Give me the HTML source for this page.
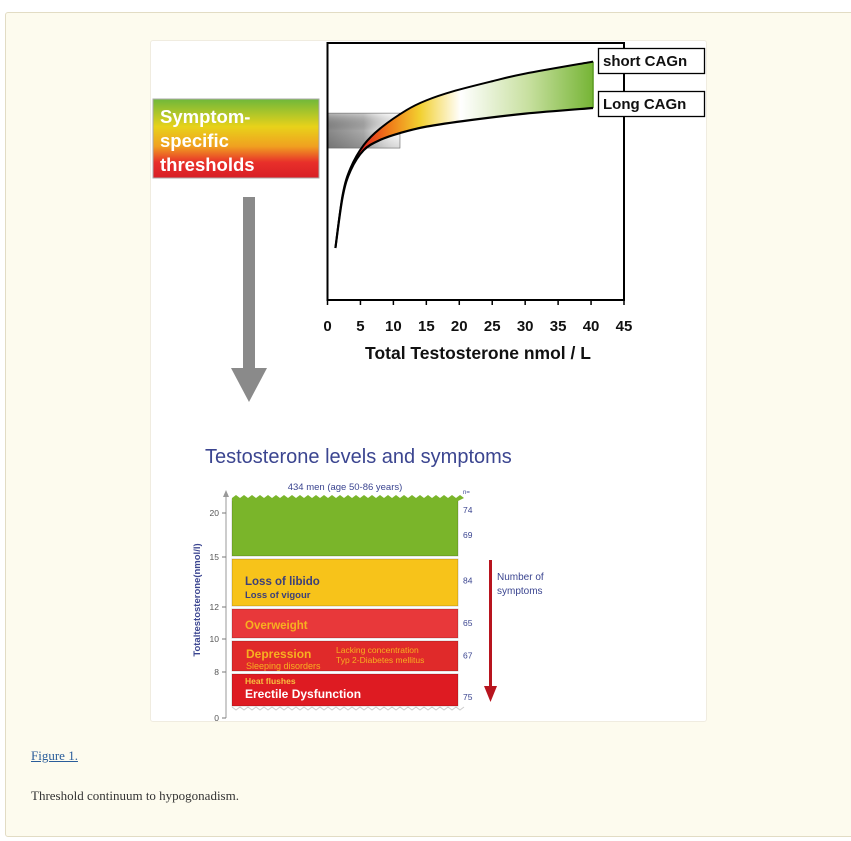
<!DOCTYPE html>
<html><head><meta charset="utf-8">
<style>
html,body{margin:0;padding:0;background:#fff;}
body{width:851px;height:841px;position:relative;overflow:hidden;font-family:"Liberation Sans",sans-serif;}
#frame{position:absolute;left:5px;top:12px;width:850px;height:825px;background:#fdfbee;border:1px solid #e2dcc4;border-radius:3px;box-sizing:border-box;}
#panel{position:absolute;left:150px;top:40px;width:557px;height:682px;background:#fff;border-radius:3px;border:1px solid #f0ece0;box-sizing:border-box;}
#cap-link{position:absolute;left:31px;top:748px;font-family:"Liberation Serif",serif;font-size:13px;color:#2a5d9a;text-decoration:underline;}
#cap-text{position:absolute;left:31px;top:788px;font-family:"Liberation Serif",serif;font-size:13px;color:#333;}
svg{position:absolute;left:0;top:0;}
</style></head><body>
<div id="frame"></div>
<div id="panel"></div>
<a id="cap-link">Figure 1.</a>
<div id="cap-text">Threshold continuum to hypogonadism.</div>
<svg id="chart" width="851" height="841" xmlns="http://www.w3.org/2000/svg">
<defs>
<linearGradient id="symGrad" x1="0" y1="0" x2="0" y2="1">
<stop offset="0" stop-color="#6fb83a"/><stop offset="0.35" stop-color="#e8d21a"/><stop offset="0.6" stop-color="#f0a020"/><stop offset="0.8" stop-color="#e8302a"/><stop offset="1" stop-color="#d81e26"/>
</linearGradient>
<linearGradient id="grayGrad" x1="0" y1="0" x2="1" y2="0">
<stop offset="0" stop-color="#888"/><stop offset="0.5" stop-color="#aaa"/><stop offset="1" stop-color="#fff" stop-opacity="0.2"/>
</linearGradient>
<linearGradient id="grayV" x1="0" y1="0" x2="0" y2="1">
<stop offset="0" stop-color="#fff" stop-opacity="0.4"/><stop offset="0.5" stop-color="#000" stop-opacity="0"/><stop offset="1" stop-color="#000" stop-opacity="0.15"/>
</linearGradient>
<linearGradient id="bandGrad" gradientUnits="userSpaceOnUse" x1="360" y1="0" x2="600" y2="0">
<stop offset="0" stop-color="#e02020"/><stop offset="0.12" stop-color="#f07a18"/><stop offset="0.25" stop-color="#f2d030"/><stop offset="0.42" stop-color="#ffffff"/><stop offset="0.7" stop-color="#c8e0a0"/><stop offset="1" stop-color="#6db02a"/>
</linearGradient>
</defs>
<g id="topchart"></g>
<g id="bottom"></g>
</svg>
<script>
// ---------- top chart data ----------
const xTicks = [0,5,10,15,20,25,30,35,40,45];
const lowerT = [1.2, 2.3, 3.5, 5.5, 8, 11, 15, 21.8, 30, 40.3];
const lowerY = [19.6, 39.7, 50, 58, 62, 64.7, 67.2, 69.8, 72.3, 74.5];
const upperT = [1.2, 2.3, 3.5, 5.5, 8, 12, 15, 19, 25, 30, 40.3];
const upperY = [19.6, 40.5, 51, 60, 66.5, 73.7, 77.5, 81, 85, 88, 92.7];
const thresholdBand = [58.8, 72.5, 11];
// ---------- bottom chart data ----------
const levelTicks = [0, 8, 10, 12, 15, 20];
const bandLow = [15, 12, 10, 8, 6.5];
const bandHigh = [21.5, 15, 12, 10, 8];
const bandColors = ['#7ab52a', '#f7c31a', '#e8383a', '#e02a2a', '#de1b22'];
const bandNames = ['band-green', 'band-libido', 'band-overweight', 'band-depression', 'band-erectile'];
const nLabels = ['74', '69', '84', '65', '67', '75'];
const nLevels = [20.3, 17.5, 13.6, 11, 9, 6.9];

const NS = 'http://www.w3.org/2000/svg';
function mk(tag, attrs, parent, text){
  const e = document.createElementNS(NS, tag);
  for (const k in attrs) e.setAttribute(k, attrs[k]);
  if (text !== undefined) e.textContent = text;
  parent.appendChild(e);
  return e;
}
const gTop = document.getElementById('topchart');
const bot = document.getElementById('bottom');
const PX0 = 327.5, PX1 = 624, PY0 = 298, PY1 = 43;
const sx = t => PX0 + (PX1 - PX0) * t / 45;
const sy = v => PY0 - (PY0 - PY1) * v / 100;
function smooth(ts, ys){
  const p = ts.map((t,i)=>[sx(t), sy(ys[i])]);
  let d = 'M' + p[0][0] + ',' + p[0][1];
  for (let i=0;i<p.length-1;i++){
    const p0=p[Math.max(0,i-1)], p1=p[i], p2=p[i+1], p3=p[Math.min(p.length-1,i+2)];
    const c1=[p1[0]+(p2[0]-p0[0])/6, p1[1]+(p2[1]-p0[1])/6];
    const c2=[p2[0]-(p3[0]-p1[0])/6, p2[1]-(p3[1]-p1[1])/6];
    d += ' C'+c1[0]+','+c1[1]+' '+c2[0]+','+c2[1]+' '+p2[0]+','+p2[1];
  }
  return d;
}
let el = mk('rect', {x:PX0, y:sy(thresholdBand[1]), width:sx(thresholdBand[2])-PX0, height:sy(thresholdBand[0])-sy(thresholdBand[1]), fill:'url(#grayGrad)'}, gTop);


el = mk('rect', {x:PX0, y:sy(thresholdBand[1]), width:sx(thresholdBand[2])-PX0, height:sy(thresholdBand[0])-sy(thresholdBand[1]), fill:'url(#grayV)', stroke:'#666', 'stroke-width':0.6}, gTop);


const up = smooth(upperT, upperY);
const lowRev = smooth(lowerT.slice().reverse(), lowerY.slice().reverse());
el = mk('path', {d: up + ' L' + sx(lowerT[lowerT.length-1]) + ',' + sy(lowerY[lowerY.length-1]) + lowRev.replace(/^M[^C]*/,' ') + 'Z', fill:'url(#bandGrad)', stroke:'none'}, gTop);


el = mk('line', {x1:sx(upperT[upperT.length-1]), y1:sy(upperY[upperY.length-1]), x2:sx(lowerT[lowerT.length-1]), y2:sy(lowerY[lowerY.length-1]), stroke:'#5a9a20', 'stroke-width':1.5}, gTop);


el = mk('path', {d: smooth(lowerT, lowerY), fill:'none', stroke:'#000', 'stroke-width':2.2}, gTop);


el = mk('path', {d: up, fill:'none', stroke:'#000', 'stroke-width':2}, gTop);


el = mk('path', {d:'M'+PX0+','+PY1+' L'+PX1+','+PY1+' L'+PX1+','+(PY0+2)+' L'+PX0+','+(PY0+2)+' Z', fill:'none', stroke:'#000', 'stroke-width':2}, gTop);


xTicks.forEach(t=>{
  const x = sx(t);
  let tk = mk('line', {x1:x, y1:PY0+2, x2:x, y2:PY0+7, stroke:'#000', 'stroke-width':1.5}, gTop);
  
  
  let tl = mk('text', {x:x, y:331, 'text-anchor':'middle', 'font-size':15, 'font-weight':'bold', fill:'#111'}, gTop, String(t));
  
  
});
el = mk('text', {x:478, y:359, 'text-anchor':'middle', 'font-size':17.5, 'font-weight':'bold', fill:'#111'}, gTop, 'Total Testosterone nmol / L');


[['short CAGn',48,'short-cagn-label'],['Long CAGn',91,'long-cagn-label']].forEach(b=>{
  let r = mk('rect', {x:598.5, y:b[1]+0.5, width:106, height:25, fill:'#fff', stroke:'#000', 'stroke-width':1.3}, gTop);
  
  
  let t = mk('text', {x:603, y:b[1]+18, 'font-size':15, 'font-weight':'bold', fill:'#111'}, gTop, b[0]);
  
  
});
el = mk('rect', {x:153, y:99, width:166, height:79, fill:'url(#symGrad)', stroke:'#aaa', 'stroke-width':1}, gTop);


['Symptom-','specific','thresholds'].forEach((s,i)=>{
  let t = mk('text', {x:160, y:123+i*24, 'font-size':18.5, 'font-weight':'bold', fill:'#fff'}, gTop, s);
  
  
});
el = mk('rect', {x:243, y:197, width:12, height:172, fill:'#8a8a8a'}, gTop);


el = mk('polygon', {points:'231,368 267,368 249,402', fill:'#8a8a8a'}, gTop);



// ---------- bottom chart ----------
const bpts = [[0,718],[6.5,706],[8,672],[10,639],[12,607],[15,557],[20,513],[21.5,499]];
function ly(v){
  for (let i=0;i<bpts.length-1;i++){
    if (v<=bpts[i+1][0]){
      const a=bpts[i], b=bpts[i+1];
      return a[1]+(b[1]-a[1])*(v-a[0])/(b[0]-a[0]);
    }
  }
  return bpts[bpts.length-1][1];
}
el = mk('text', {x:205, y:463, 'font-size':20, fill:'#3b4590'}, bot, 'Testosterone levels and symptoms');


el = mk('text', {x:345, y:490, 'text-anchor':'middle', 'font-size':9.5, fill:'#3b4590'}, bot, '434 men  (age 50-86 years)');


const BX0 = 232, BX1 = 458;
bandLow.forEach((lo,i)=>{
  const yT = ly(bandHigh[i]) + (i===0?0:2), yB = ly(lo) - (i===bandLow.length-1?0:1);
  let r = mk('rect', {x:BX0, y:yT, width:BX1-BX0, height:yB-yT, fill:bandColors[i], stroke:'rgba(0,0,0,0.18)', 'stroke-width':1}, bot);
  
  
});
let wt='M'+BX0+','+(ly(21.5)-1), wb='M'+BX0+','+(ly(6.5)+1);
for (let x=BX0; x<BX1; x+=8){ wt+=' L'+(x+4)+','+(ly(21.5)-4)+' L'+(x+8)+','+(ly(21.5)-1); wb+=' L'+(x+4)+','+(ly(6.5)+4)+' L'+(x+8)+','+(ly(6.5)+1); }
el = mk('path', {d:wt+' L'+BX1+','+(ly(21.5)+2)+' L'+BX0+','+(ly(21.5)+2)+'Z', fill:bandColors[0]}, bot);


el = mk('path', {d:wb, fill:'none', stroke:'#ccc', 'stroke-width':1}, bot);


const btx = [
 ['Loss of libido',245,585,11.5,'#3b3f7a','bold'],['Loss of vigour',245,598,9.5,'#3b3f7a','bold'],
 ['Overweight',245,629,11.5,'#f7b020','bold'],
 ['Depression',246,658,12,'#f7b020','bold'],['Sleeping disorders',246,669,9,'#f7b020','normal'],
 ['Lacking concentration',336,653,8.5,'#f7b020','normal'],['Typ 2-Diabetes mellitus',336,663,8.5,'#f7b020','normal'],
 ['Heat flushes',245,684,8.5,'#f7c040','bold'],['Erectile  Dysfunction',245,698,12,'#ffffff','bold']];
btx.forEach(b=>{
  let t = mk('text', {x:b[1], y:b[2], 'font-size':b[3], fill:b[4], 'font-weight':b[5]}, bot, b[0]);
  
  
});
el = mk('line', {x1:226, y1:494, x2:226, y2:718, stroke:'#999', 'stroke-width':1}, bot);


el = mk('polygon', {points:'223,497 229,497 226,490', fill:'#999'}, bot);


levelTicks.forEach(v=>{
  const y = ly(v);
  let tk = mk('line', {x1:222, y1:y, x2:226, y2:y, stroke:'#777'}, bot);
  
  
  let tl = mk('text', {x:219, y:y+3, 'text-anchor':'end', 'font-size':8.5, fill:'#555'}, bot, String(v));
  
  
});
el = mk('text', {x:0, y:0, transform:'translate(200,600) rotate(-90)', 'text-anchor':'middle', 'font-size':9.5, 'font-weight':'bold', fill:'#3b4590'}, bot, 'Totaltestosterone(nmol/l)');


el = mk('text', {x:463, y:494, 'font-size':6, fill:'#3b4590'}, bot, 'n=');


nLabels.forEach((s,i)=>{
  let t = mk('text', {x:463, y:ly(nLevels[i])+3, 'font-size':8.5, fill:'#3b4590'}, bot, s);
  
  
});
el = mk('rect', {x:489, y:560, width:3, height:128, fill:'#b8141e'}, bot);


el = mk('polygon', {points:'484,686 497,686 490.5,702', fill:'#b8141e'}, bot);


['Number  of','symptoms'].forEach((s,i)=>{
  let t = mk('text', {x:497, y:580+i*14, 'font-size':10, fill:'#3b4590'}, bot, s);
  
  
});
</script>
</body></html>
